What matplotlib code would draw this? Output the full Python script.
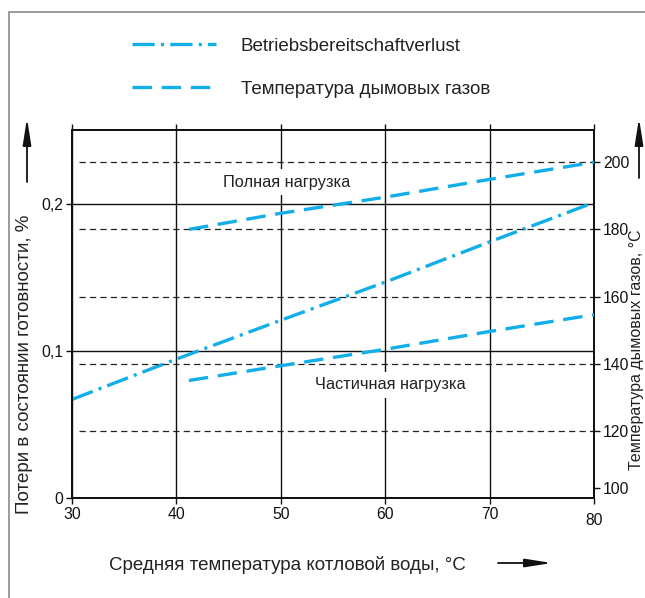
import matplotlib
matplotlib.use('Agg')
import matplotlib.pyplot as plt
from matplotlib.patches import Rectangle

plt.rcParams['font.family'] = ['Liberation Sans', 'DejaVu Sans']
plt.rcParams['lines.scale_dashes'] = False

# данные
x_loss = [30, 40, 50, 60, 70, 80]
loss = [0.067, 0.0945, 0.121, 0.147, 0.1744, 0.2013]

x_full = [41.2, 50, 60, 70, 80]
t_full = [180, 184.8, 189.6, 194.9, 200]

x_part = [41.2, 50, 60, 70, 80]
t_part = [135, 139.4, 144.3, 149.6, 154.6]

x_ticks = [30, 40, 50, 60, 70, 80]
left_ticks = [0, 0.1, 0.2]
left_labels = ['0', '0,1', '0,2']
right_ticks = [103, 120, 140, 160, 180, 200]
right_labels = ['100', '120', '140', '160', '180', '200']
dashed_levels = [120, 140, 160, 180, 200]

blue = '#12aee8'

fig = plt.figure(figsize=(6.45, 5.98), dpi=100)
ax = fig.add_axes([72 / 645, 1 - 497.7 / 598, 522 / 645, 367.7 / 598])
ax2 = ax.twinx()

ax.set_xlim(30, 80)
ax.set_ylim(0, 0.2507)
ax2.set_ylim(100.1, 209.6)

ax.set_xticks(x_ticks)
ax.set_xticklabels([str(v) for v in x_ticks])
ax.set_yticks(left_ticks)
ax.set_yticklabels(left_labels)
ax2.set_yticks(right_ticks)
ax2.set_yticklabels(right_labels)

ax.grid(True, color='#111111', linewidth=1.0, linestyle='-')
ax.set_axisbelow(True)
ax.tick_params(direction='out', length=4.5, width=1.0, labelsize=11.3, pad=2,
               top=True, colors='#111111')
ax2.tick_params(direction='out', length=4.5, width=1.0, labelsize=11.3, pad=2,
                colors='#111111')
for a in (ax, ax2):
    for s in a.spines.values():
        s.set_linewidth(1.3)
        s.set_color('#111111')

# пунктирные линии по шкале температур
for lv in dashed_levels:
    ax2.axhline(lv, xmin=0.013, xmax=1, color='#222222', linewidth=0.9,
                dashes=(4.5, 3), zorder=1)

l1, = ax.plot(x_loss, loss, color=blue, linewidth=2.4,
              dashes=(16, 4.5, 2.2, 4.5), dash_capstyle='butt')
l2, = ax2.plot(x_full, t_full, color=blue, linewidth=2.4,
               dashes=(14, 7), dash_capstyle='butt', zorder=3)
ax2.plot(x_part, t_part, color=blue, linewidth=2.4,
         dashes=(14, 7), dash_capstyle='butt', zorder=3)

ax2.text(50.55, 194.1, 'Полная нагрузка', ha='center', va='center', fontsize=11.8,
         color='#222222', zorder=5,
         bbox=dict(facecolor='white', edgecolor='none', pad=4))
ax2.text(60.46, 133.7, 'Частичная нагрузка', ha='center', va='center', fontsize=11.8,
         color='#222222', zorder=5,
         bbox=dict(facecolor='white', edgecolor='none', pad=4))

fig.legend([l1, l2], ['Betriebsbereitschaftverlust', 'Температура дымовых газов'],
           loc='upper left', bbox_to_anchor=(115 / 645, 1 - 21 / 598),
           frameon=False, fontsize=13.5, handlelength=4.5, handletextpad=1.3,
           labelspacing=1.36, labelcolor='#222222')

fig.text(287 / 645, 1 - 565 / 598, 'Средняя температура котловой воды, °C',
         ha='center', va='center', fontsize=13.5, color='#222222')
fig.text(25 / 645, 1 - 364 / 598, 'Потери в состоянии готовности, %',
         ha='center', va='center', rotation=90, fontsize=13.5, color='#222222')
fig.text(636.5 / 645, 1 - 350 / 598, 'Температура дымовых газов, °C',
         ha='center', va='center', rotation=90, fontsize=11.5, color='#222222')

arrow = dict(arrowstyle='-|>,head_length=1.6,head_width=0.25', color='#111111',
             linewidth=1.3, mutation_scale=10, shrinkA=0, shrinkB=0)
ax.annotate('', xy=(27, 480), xytext=(27, 416), xycoords='figure pixels',
            textcoords='figure pixels', arrowprops=arrow)
ax.annotate('', xy=(639, 480), xytext=(639, 420), xycoords='figure pixels',
            textcoords='figure pixels', arrowprops=arrow)
ax.annotate('', xy=(552, 35), xytext=(498, 35), xycoords='figure pixels',
            textcoords='figure pixels', arrowprops=arrow)

fig.patches.append(Rectangle((9 / 645, -0.1), 1.2, 1.1 - 12 / 598,
                             transform=fig.transFigure, fill=False,
                             edgecolor='#8a8a8a', linewidth=1.2))

ax.xaxis.get_major_ticks()[-1].set_pad(6.5)

fig.savefig('out.png', dpi=100)
